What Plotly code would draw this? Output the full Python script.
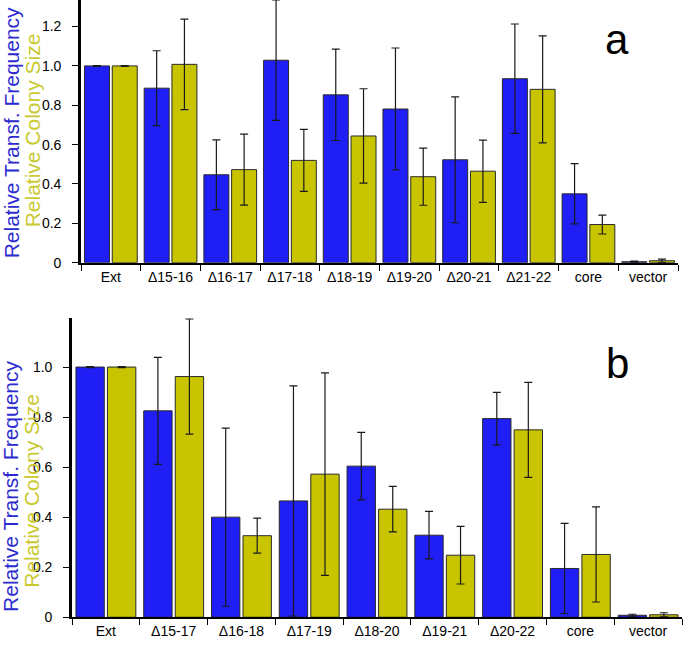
import plotly.graph_objects as go

# Panel a data
cats_a = ["Ext", "Δ15-16", "Δ16-17", "Δ17-18", "Δ18-19", "Δ19-20", "Δ20-21", "Δ21-22", "core", "vector"]
freq_a = [1.0, 0.887, 0.447, 1.029, 0.853, 0.781, 0.523, 0.935, 0.350, 0.005]
freq_a_err = [0.002, 0.19, 0.177, 0.306, 0.232, 0.31, 0.32, 0.278, 0.153, 0.003]
size_a = [1.0, 1.008, 0.473, 0.520, 0.644, 0.437, 0.465, 0.881, 0.194, 0.010]
size_a_err = [0.002, 0.23, 0.18, 0.158, 0.24, 0.145, 0.158, 0.272, 0.048, 0.008]

# Panel b data
cats_b = ["Ext", "Δ15-17", "Δ16-18", "Δ17-19", "Δ18-20", "Δ19-21", "Δ20-22", "core", "vector"]
freq_b = [1.0, 0.825, 0.400, 0.465, 0.604, 0.328, 0.794, 0.195, 0.008]
freq_b_err = [0.002, 0.214, 0.356, 0.46, 0.135, 0.095, 0.105, 0.18, 0.004]
size_b = [1.0, 0.962, 0.326, 0.572, 0.432, 0.248, 0.749, 0.251, 0.010]
size_b_err = [0.002, 0.23, 0.07, 0.405, 0.091, 0.115, 0.19, 0.19, 0.008]

ticks_a = [0, 0.2, 0.4, 0.6, 0.8, 1.0, 1.2]
ticktext_a = ["0", "0.2", "0.4", "0.6", "0.8", "1.0", "1.2"]
ticks_b = [0, 0.2, 0.4, 0.6, 0.8, 1.0]
ticktext_b = ["0", "0.2", "0.4", "0.6", "0.8", "1.0"]

BLUE = "#1e1ef5"
YELLOW = "#c8c400"
BLUE_TXT = "#2b2bcf"
YELLOW_TXT = "#c9c930"
FONT = "Liberation Sans, Arial, sans-serif"
PAD = "\u00a0\u00a0"

W, H = 685, 646

def px_x(x):
    return x / W

def px_y(y):
    return 1 - y / H

fig = go.Figure()

def add_bars(cats, vals, errs, color, xa, ya):
    fig.add_trace(go.Bar(
        x=cats, y=vals, xaxis=xa, yaxis=ya,
        marker=dict(color=color, line=dict(color="#2a2a2a", width=1)),
        error_y=dict(type="data", array=errs, visible=True, color="#1a1a1a",
                     thickness=1.2, width=4),
        showlegend=False, cliponaxis=False,
    ))

add_bars(cats_a, freq_a, freq_a_err, BLUE, "x", "y")
add_bars(cats_a, size_a, size_a_err, YELLOW, "x", "y")
add_bars(cats_b, freq_b, freq_b_err, BLUE, "x2", "y2")
add_bars(cats_b, size_b, size_b_err, YELLOW, "x2", "y2")

xcommon = dict(type="category", showline=True, linecolor="black", linewidth=2,
               ticks="outside", tickson="boundaries", ticklen=6, tickwidth=1,
               tickcolor="black", showgrid=False, zeroline=False,
               tickfont=dict(family=FONT, size=14, color="black"))
ycommon = dict(showline=True, linecolor="black", linewidth=3, ticks="outside",
               ticklen=6, tickwidth=1, tickcolor="black", showgrid=False,
               zeroline=False, tickfont=dict(family=FONT, size=14, color="black"))

fig.update_layout(
    width=W, height=H,
    margin=dict(l=0, r=0, t=0, b=0),
    paper_bgcolor="white", plot_bgcolor="white",
    barmode="group", bargap=0.07, bargroupgap=0.1,
    xaxis=dict(domain=[px_x(81), px_x(678)], anchor="y", **xcommon),
    yaxis=dict(domain=[px_y(266), px_y(0)], anchor="x", range=[0, 1.335],
               tickvals=ticks_a, ticktext=[t + PAD for t in ticktext_a], **ycommon),
    xaxis2=dict(domain=[px_x(72), px_x(682)], anchor="y2", **xcommon),
    yaxis2=dict(domain=[px_y(625), px_y(322)], anchor="x2", range=[0, 1.196],
                tickvals=ticks_b, ticktext=[t + PAD for t in ticktext_b], **ycommon),
)

annotations = [
    dict(text="Relative Transf. Frequency", x=px_x(11), y=px_y(135),
         font=dict(family=FONT, size=21, color=BLUE_TXT)),
    dict(text="Relative Colony Size", x=px_x(32), y=px_y(132),
         font=dict(family=FONT, size=21, color=YELLOW_TXT)),
    dict(text="Relative Transf. Frequency", x=px_x(11), y=px_y(493),
         font=dict(family=FONT, size=21, color=BLUE_TXT)),
    dict(text="Relative Colony Size", x=px_x(32), y=px_y(497),
         font=dict(family=FONT, size=21, color=YELLOW_TXT)),
]
for a in annotations:
    fig.add_annotation(xref="paper", yref="paper", textangle=-90,
                       showarrow=False, xanchor="center", yanchor="middle", **a)

fig.add_annotation(text="a", xref="paper", yref="paper", x=px_x(617), y=px_y(40),
                   showarrow=False, xanchor="center", yanchor="middle",
                   font=dict(family=FONT, size=42, color="black"))
fig.add_annotation(text="b", xref="paper", yref="paper", x=px_x(617), y=px_y(368),
                   showarrow=False, xanchor="center", yanchor="middle",
                   font=dict(family=FONT, size=42, color="black"))

fig.write_html("out.html", config={"displayModeBar": False},
               post_script="document.body.style.margin='0px';document.body.style.overflow='hidden';")
